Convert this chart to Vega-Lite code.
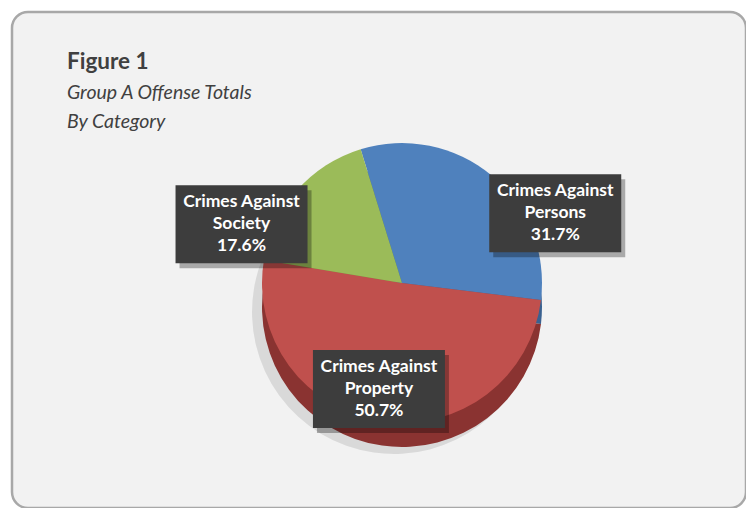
{
  "$schema": "https://vega.github.io/schema/vega-lite/v6.json",
  "width": 734,
  "height": 496,
  "autosize": {"type": "none"},
  "padding": {"left": 12, "top": 12, "right": 0, "bottom": 0},
  "background": "#ffffff",
  "config": {
    "view": {"fill": "#f2f2f2", "stroke": "#a8a8a8", "strokeWidth": 2.5, "cornerRadius": 16},
    "font": "Lato"
  },
  "title": {
    "text": "Figure 1",
    "subtitle": ["Group A Offense Totals", "By Category"],
    "anchor": "start",
    "frame": "group",
    "orient": "top",
    "offset": -119,
    "dx": 55,
    "font": "Lato",
    "fontSize": 22.5,
    "fontWeight": "bold",
    "color": "#404040",
    "subtitleFont": "Lato",
    "subtitleFontSize": 19.5,
    "subtitleFontStyle": "italic",
    "subtitleColor": "#404040",
    "subtitleLineHeight": 29,
    "subtitlePadding": 10
  },
  "data": {
    "values": [
      {"category": "Crimes Against Persons", "short": "Persons", "pct": 31.7},
      {"category": "Crimes Against Property", "short": "Property", "pct": 50.7},
      {"category": "Crimes Against Society", "short": "Society", "pct": 17.6}
    ]
  },
  "layer": [
    {
      "mark": {"type": "arc", "radius": 142, "xOffset": 15, "yOffset": 52, "color": "#000000", "opacity": 0.1},
      "encoding": {
        "theta": {"field": "pct", "type": "quantitative", "stack": true, "scale": {"range": [-0.3, 5.9832]}},
        "order": {"field": "category", "type": "nominal"}
      }
    },
    {
      "mark": {"type": "arc", "radius": 140, "xOffset": 23, "yOffset": 47},
      "encoding": {
        "theta": {"field": "pct", "type": "quantitative", "stack": true, "scale": {"range": [-0.3, 5.9832]}},
        "order": {"field": "category", "type": "nominal"},
        "color": {
          "field": "category", "type": "nominal", "legend": null,
          "scale": {"domain": ["Crimes Against Persons", "Crimes Against Property", "Crimes Against Society"], "range": ["#3a6190", "#8a3331", "#738c40"]}
        }
      }
    },
    {
      "mark": {"type": "arc", "radius": 140, "xOffset": 23, "yOffset": 23},
      "encoding": {
        "theta": {"field": "pct", "type": "quantitative", "stack": true, "scale": {"range": [-0.3, 5.9832]}},
        "order": {"field": "category", "type": "nominal"},
        "fill": {
          "field": "category", "type": "nominal", "legend": null,
          "scale": {"domain": ["Crimes Against Persons", "Crimes Against Property", "Crimes Against Society"], "range": ["#4f81bd", "#c0504d", "#9bbb59"]}
        }
      }
    },
    {
      "transform": [
        {"joinaggregate": [{"op": "sum", "field": "pct", "as": "total"}]},
        {"window": [{"op": "sum", "field": "pct", "as": "cum"}], "sort": [{"field": "category"}], "frame": [null, 0]},
        {"calculate": "-0.3 + 2 * PI * (datum.cum - datum.pct / 2) / datum.total", "as": "mid"},
        {"calculate": "399 + 225 * sin(datum.mid)", "as": "lx"},
        {"calculate": "278 - 100 * cos(datum.mid)", "as": "ly"},
        {"calculate": "['Crimes Against', datum.short, format(datum.pct, '.1f') + '%']", "as": "lbl"}
      ],
      "encoding": {
        "x": {"field": "lx", "type": "quantitative", "scale": null, "axis": null},
        "y": {"field": "ly", "type": "quantitative", "scale": null, "axis": null}
      },
      "layer": [
        {
          "mark": {"type": "point", "shape": "M-1,-0.59H1V0.59H-1Z", "size": 17424, "filled": true, "color": "#000000", "opacity": 0.3, "xOffset": 4, "yOffset": 5}
        },
        {
          "mark": {"type": "point", "shape": "M-1,-0.59H1V0.59H-1Z", "size": 17424, "filled": true, "color": "#3d3d3d", "opacity": 1}
        },
        {
          "mark": {"type": "text", "align": "center", "baseline": "middle", "dy": -22, "font": "Lato", "fontSize": 17.5, "fontWeight": "bold", "color": "#ffffff", "lineHeight": 22},
          "encoding": {"text": {"field": "lbl"}}
        }
      ]
    }
  ],
  "resolve": {"scale": {"color": "independent", "fill": "independent"}}
}
